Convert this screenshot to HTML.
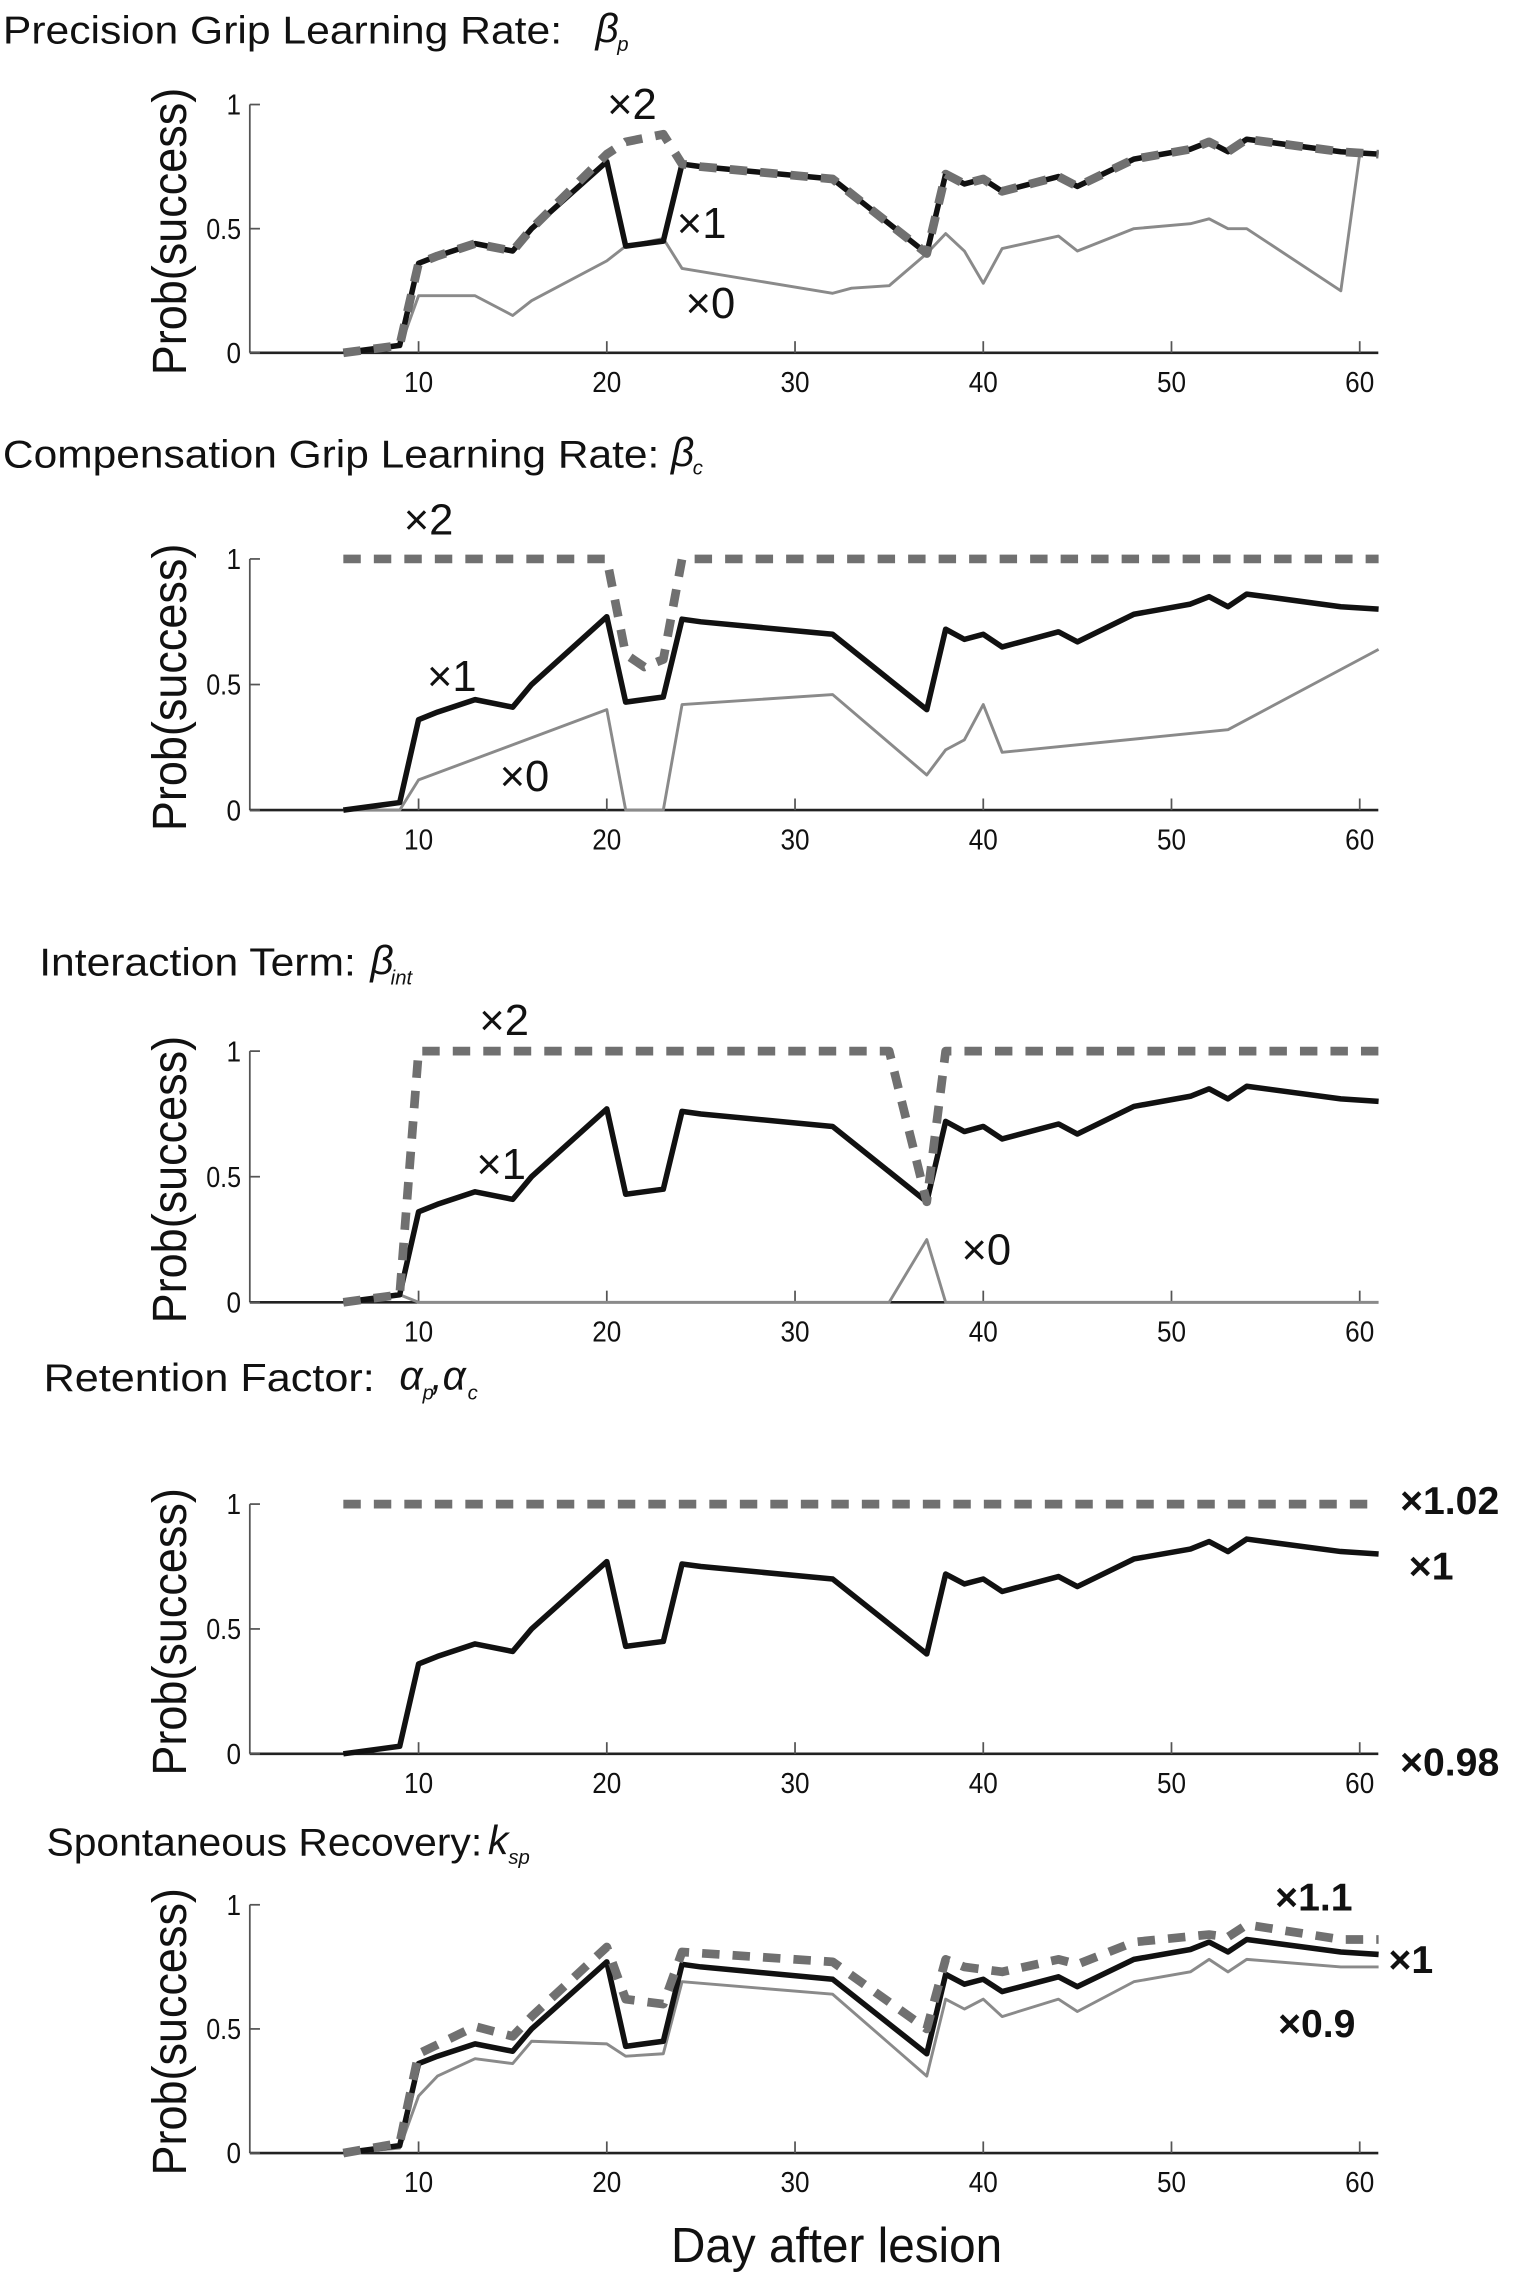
<!DOCTYPE html>
<html><head><meta charset="utf-8"><style>
html,body{margin:0;padding:0;background:#fff;}
svg{display:block;}
text{font-family:"Liberation Sans",sans-serif;fill:#111;}
</style></head><body>
<svg id="s" xmlns="http://www.w3.org/2000/svg" width="1525" height="2275" viewBox="0 0 1050 1567" preserveAspectRatio="none">
<text x="2" y="30" font-size="27" textLength="385" lengthAdjust="spacingAndGlyphs">Precision Grip Learning Rate:</text>
<text x="410" y="29" font-size="28" font-family="Liberation Serif" font-style="italic">β</text><text x="425" y="35" font-size="14" font-family="Liberation Serif" font-style="italic">p</text>
<text x="2" y="322" font-size="27" textLength="452" lengthAdjust="spacingAndGlyphs">Compensation Grip  Learning Rate:</text>
<text x="462" y="321" font-size="28" font-family="Liberation Serif" font-style="italic">β</text><text x="477" y="327" font-size="14" font-family="Liberation Serif" font-style="italic">c</text>
<text x="27" y="672" font-size="27" textLength="218" lengthAdjust="spacingAndGlyphs">Interaction Term:</text>
<text x="255" y="671" font-size="28" font-family="Liberation Serif" font-style="italic">β</text><text x="269" y="678" font-size="14" font-family="Liberation Serif" font-style="italic">int</text>
<text x="30" y="958" font-size="27" textLength="228" lengthAdjust="spacingAndGlyphs">Retention  Factor:</text>
<text x="275" y="957" font-size="28" font-family="Liberation Serif" font-style="italic">α</text><text x="291" y="964" font-size="14" font-family="Liberation Serif" font-style="italic">p</text>
<text x="297" y="957" font-size="28" font-family="Liberation Serif" font-style="italic">,α</text><text x="322" y="964" font-size="14" font-family="Liberation Serif" font-style="italic">c</text>
<text x="32" y="1278" font-size="27" textLength="300" lengthAdjust="spacingAndGlyphs">Spontaneous Recovery:</text>
<text x="336" y="1277" font-size="28" font-family="Liberation Serif" font-style="italic">k</text><text x="350" y="1284" font-size="14" font-family="Liberation Serif" font-style="italic">sp</text>
<text x="576" y="1558" font-size="34" text-anchor="middle" textLength="228" lengthAdjust="spacingAndGlyphs">Day after lesion</text>
</svg>
<script>
var S=document.getElementById('s'),NS='http://www.w3.org/2000/svg';
function el(t,a,txt){var e=document.createElementNS(NS,t);for(var k in a)e.setAttribute(k,a[k]);if(txt!==undefined)e.textContent=txt;S.appendChild(e);return e;}
function X(d){return 158.6+d*12.96;}
var B=[[6,0],[9,0.03],[10,0.36],[11,0.39],[13,0.44],[15,0.41],[16,0.5],[20,0.77],[21,0.43],[23,0.45],[24,0.76],[25,0.75],[32,0.70],[37,0.40],[38,0.72],[39,0.68],[40,0.70],[41,0.65],[44,0.71],[45,0.67],[48,0.78],[51,0.82],[52,0.85],[53,0.81],[54,0.86],[59,0.81],[61,0.80]];
var panels=[
 {y1:72,y0:243,series:[
  {d:[[9,0.02],[10,0.23],[11,0.23],[13,0.23],[15,0.15],[16,0.21],[20,0.37],[21,0.43],[23,0.46],[24,0.34],[32,0.24],[33,0.26],[35,0.27],[37,0.40],[38,0.48],[39,0.41],[40,0.28],[41,0.42],[44,0.47],[45,0.41],[48,0.50],[51,0.52],[52,0.54],[53,0.50],[54,0.50],[59,0.25],[60,0.80],[61,0.80]],t:'g'},
  {d:B,t:'b'},
  {d:[[6,0],[9,0.03],[10,0.36],[11,0.39],[13,0.44],[15,0.41],[16,0.5],[20,0.80],[21,0.85],[23,0.88],[24,0.76],[25,0.75],[32,0.70],[37,0.40],[38,0.72],[39,0.68],[40,0.70],[41,0.65],[44,0.71],[45,0.67],[48,0.78],[51,0.82],[52,0.85],[53,0.81],[54,0.86],[59,0.81],[61,0.80]],t:'d'}],
  labels:[[418,82,'×2'],[466,164,'×1'],[472,219,'×0']]},
 {y1:385,y0:558,series:[
  {d:[[6,0],[9,0],[10,0.12],[20,0.40],[21,0],[23,0],[24,0.42],[32,0.46],[37,0.14],[38,0.24],[39,0.28],[40,0.42],[41,0.23],[53,0.32],[61,0.64]],t:'g'},
  {d:B,t:'b'},
  {d:[[6,1],[20,1],[21,0.62],[22,0.57],[23,0.60],[24,1],[61,1]],t:'d'}],
  labels:[[278,368,'×2'],[294,476,'×1'],[344,545,'×0']]},
 {y1:724,y0:897,series:[
  {d:[[6,0],[9,0.03],[10,0],[35,0],[37,0.25],[38,0],[61,0]],t:'g'},
  {d:B,t:'b'},
  {d:[[6,0],[9,0.03],[10,1],[35,1],[37,0.40],[38,1],[61,1]],t:'d'}],
  labels:[[330,713,'×2'],[328,812,'×1'],[662,871,'×0']]},
 {y1:1036,y0:1208,series:[
  {d:B,t:'b'},
  {d:[[6,1],[61,1]],t:'d'}],
  labels:[[964,1043,'×1.02',1],[970,1088,'×1',1],[964,1223,'×0.98',1]]},
 {y1:1312,y0:1483,series:[
  {d:[[6,0],[9,0.02],[10,0.23],[11,0.31],[13,0.38],[15,0.36],[16,0.45],[20,0.44],[21,0.39],[23,0.40],[24,0.69],[32,0.64],[37,0.31],[38,0.62],[39,0.58],[40,0.62],[41,0.55],[44,0.62],[45,0.57],[48,0.69],[51,0.73],[52,0.78],[53,0.73],[54,0.78],[59,0.75],[61,0.75]],t:'g'},
  {d:B,t:'b'},
  {d:[[6,0],[9,0.04],[10,0.40],[13,0.51],[15,0.47],[16,0.55],[20,0.83],[21,0.62],[23,0.60],[24,0.81],[32,0.77],[37,0.50],[38,0.78],[39,0.75],[41,0.73],[44,0.78],[45,0.76],[48,0.85],[52,0.88],[53,0.87],[54,0.92],[59,0.86],[61,0.86]],t:'d'}],
  labels:[[878,1316,'×1.1',1],[956,1359,'×1',1],[880,1403,'×0.9',1]]}
];
panels.forEach(function(p){
 function Y(v){return p.y0+(p.y1-p.y0)*v;}
 var xa=172,xe=949;
 el('line',{x1:xa,y1:p.y1,x2:xa,y2:p.y0,stroke:'#555','stroke-width':1.2});
 el('line',{x1:xa,y1:p.y0,x2:xe,y2:p.y0,stroke:'#222','stroke-width':1.8});
 [[0,'0'],[0.5,'0.5'],[1,'1']].forEach(function(t){
  el('line',{x1:xa,y1:Y(t[0]),x2:xa+7,y2:Y(t[0]),stroke:'#555','stroke-width':1.2});
  el('text',{x:166,y:Y(t[0])+7,'font-size':20,'text-anchor':'end',fill:'#333',textLength:t[1].length==1?10:24,lengthAdjust:'spacingAndGlyphs'},t[1]);
 });
 [10,20,30,40,50,60].forEach(function(d){
  el('line',{x1:X(d),y1:p.y0,x2:X(d),y2:p.y0-8,stroke:'#555','stroke-width':1.2});
  el('text',{x:X(d),y:p.y0+27,'font-size':20,'text-anchor':'middle',fill:'#333',textLength:20,lengthAdjust:'spacingAndGlyphs'},String(d));
 });
 var cy=(p.y0+p.y1)/2;
 el('text',{x:0,y:0,'font-size':33,'text-anchor':'middle',transform:'translate(128,'+(cy+2)+') rotate(-90)',textLength:198,lengthAdjust:'spacingAndGlyphs'},'Prob(success)');
 p.series.forEach(function(s){
  var pts=s.d.map(function(q){return X(q[0]).toFixed(1)+','+Y(q[1]).toFixed(1);}).join(' ');
  var a={points:pts,fill:'none','stroke-linejoin':'round'};
  if(s.t=='g'){a.stroke='#8a8a8a';a['stroke-width']=2;}
  else if(s.t=='b'){a.stroke='#111';a['stroke-width']=3.8;}
  else {a.stroke='#707070';a['stroke-width']=6;a['stroke-dasharray']='12,9';}
  el('polyline',a);
 });
 p.labels.forEach(function(l){
  if(l[3]) el('text',{x:l[0],y:l[1],'font-size':27,'font-weight':'bold'},l[2]);
  else el('text',{x:l[0],y:l[1],'font-size':30,'font-family':'Liberation Serif'},l[2]);
 });
});
</script>
</body></html>
